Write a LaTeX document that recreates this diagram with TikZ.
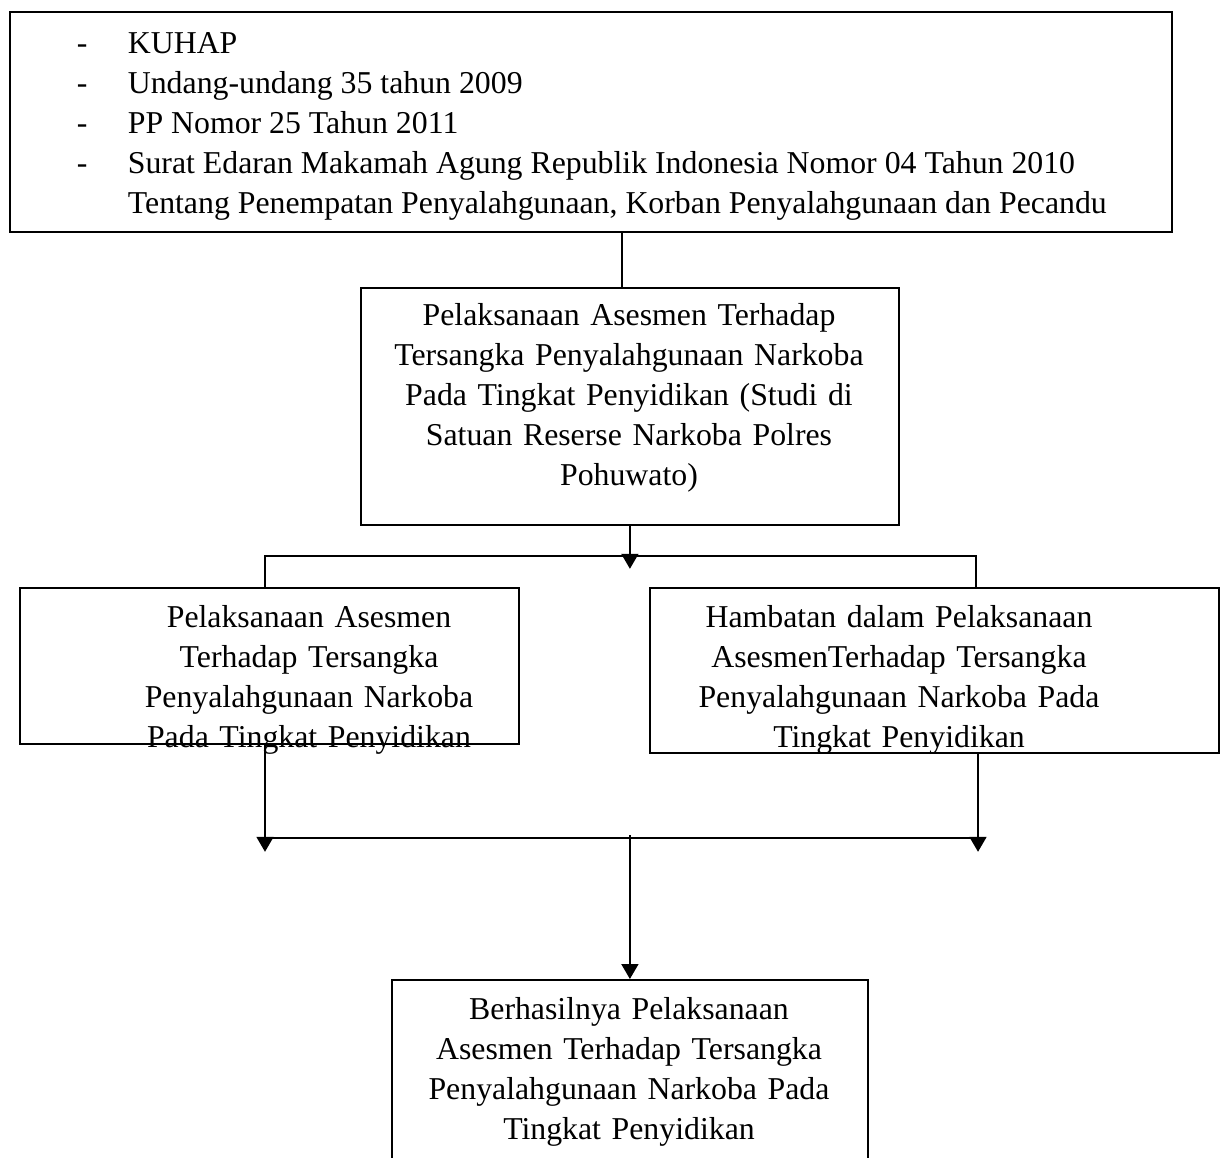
\documentclass[tikz,border=0pt]{standalone}
\usepackage{fontspec}
\setmainfont{Liberation Serif}
\usetikzlibrary{arrows.meta}
\tikzset{
    box/.style={draw, inner sep=0pt, anchor=north west},
    teks/.style={inner sep=0pt, text width=560pt, align=center, anchor=base, font=\fontsize{31.8}{40}\selectfont},
    panah/.style={-{Triangle[width=17pt,length=15pt]}},
}

\begin{document}
\begin{tikzpicture}[x=1pt, y=-1pt, line width=1.8pt]
        \clip (0,0) rectangle (1220,1158);
        \node[box, minimum width=1162pt, minimum height=220pt] (dasar) at (9,11) {};
        \node[inner sep=0pt, anchor=base west, font=\fontsize{31.8}{40}\selectfont] (dasarteks) at (76,54) {\begin{tabular}[t]{@{}p{51pt}@{}l@{}}
            - & KUHAP\\
            - & Undang-undang 35 tahun 2009\\
            - & PP Nomor 25 Tahun 2011\\
            - & Surat Edaran Makamah Agung Republik Indonesia Nomor 04 Tahun 2010\\
              & Tentang Penempatan Penyalahgunaan, Korban Penyalahgunaan dan Pecandu
        \end{tabular}};
        \node[box, minimum width=538pt, minimum height=237pt] (judul) at (360,287) {};
        \node[teks] (judulteks) at (629,325) {Pelaksanaan Asesmen Terhadap\\ Tersangka Penyalahgunaan Narkoba\\ Pada Tingkat Penyidikan (Studi di\\ Satuan Reserse Narkoba Polres\\ Pohuwato)};
        \node[box, minimum width=499pt, minimum height=156pt] (pelaksanaan) at (19,587) {};
        \node[teks] (pelaksanaanteks) at (309,627) {Pelaksanaan Asesmen\\ Terhadap Tersangka\\ Penyalahgunaan Narkoba\\ Pada Tingkat Penyidikan};
        \node[box, minimum width=569pt, minimum height=165pt] (hambatan) at (649,587) {};
        \node[teks] (hambatanteks) at (899,627) {Hambatan dalam Pelaksanaan\\ AsesmenTerhadap Tersangka\\ Penyalahgunaan Narkoba Pada\\ Tingkat Penyidikan};
        \node[box, minimum width=476pt, minimum height=200pt] (hasil) at (391,979) {};
        \node[teks] (hasilteks) at (629,1019) {Berhasilnya Pelaksanaan\\ Asesmen Terhadap Tersangka\\ Penyalahgunaan Narkoba Pada\\ Tingkat Penyidikan};

        \coordinate (cabangkiri) at (265,556);
        \coordinate (cabangkanan) at (976,556);
        \coordinate (gabungkiri) at (265,838);
        \coordinate (gabungkanan) at (978,838);

        \draw ([xshift=-8pt]judul.north) -- ([xshift=-8pt]judul.north |- dasar.south);
        \draw[panah] (judul.south) -- ++(0,43);
        \draw (cabangkiri |- pelaksanaan.north) -- (cabangkiri) -- (cabangkanan) -- (cabangkanan |- hambatan.north);
        \draw[panah] (gabungkiri |- pelaksanaan.south) -- ++(0,107);
        \draw[panah] (gabungkanan |- hambatan.south) -- ++(0,98);
        \draw (gabungkiri) -- (gabungkanan);
        \draw[panah] ([yshift=3pt]gabungkiri -| hasil.north) -- (hasil.north);
    \end{tikzpicture}
\end{document}
